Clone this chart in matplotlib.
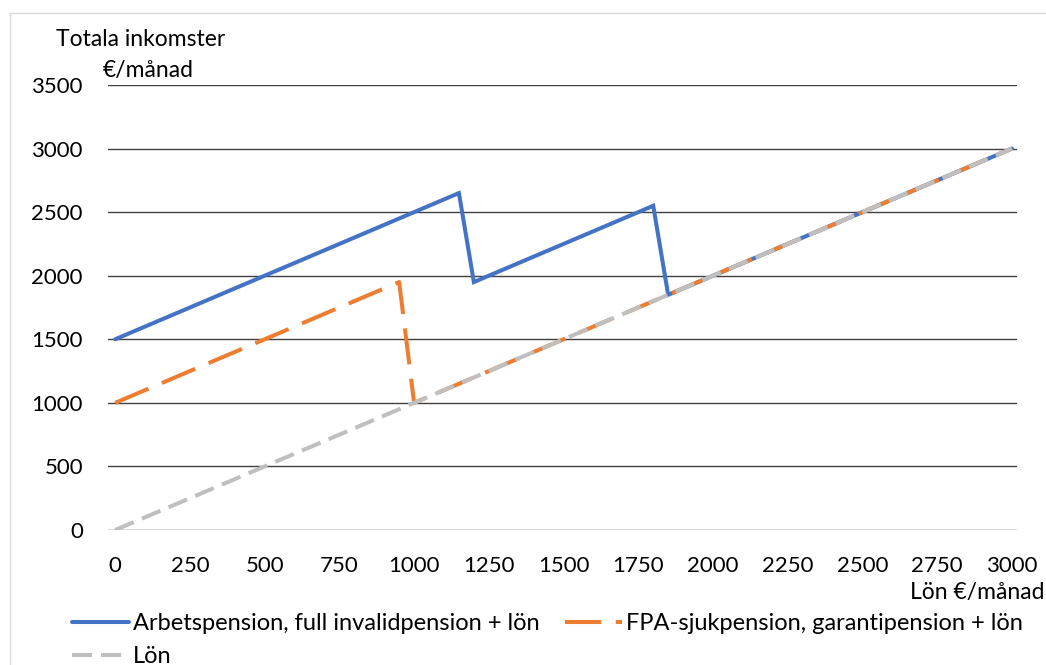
import matplotlib
matplotlib.use("Agg")
import matplotlib.pyplot as plt
from matplotlib.lines import Line2D

plt.rcParams['font.family'] = ['Lato', 'DejaVu Sans']

# data (EUR / month)
arbets_x = [0, 1150, 1200, 1800, 1850, 3000]
arbets_y = [1500, 2650, 1950, 2550, 1850, 3000]
fpa_x = [0, 950, 1000, 3000]
fpa_y = [1000, 1950, 1000, 3000]
lon_x = [0, 3000]
lon_y = [0, 3000]

labels = ["Arbetspension, full invalidpension + lön",
          "FPA-sjukpension, garantipension + lön",
          "Lön"]
xticks = list(range(0, 3001, 250))
yticks = list(range(0, 3501, 500))

W, H = 1046, 665
fig = plt.figure(figsize=(W / 100, H / 100), dpi=100)
ax = fig.add_axes([108 / W, (H - 530) / H, (1017 - 108) / W, (530 - 85) / H])

blue, orange, grey = "#4472C4", "#ED7D31", "#BFBFBF"
lw = 2.9
l1, = ax.plot(arbets_x, arbets_y, color=blue, lw=lw, solid_capstyle='round',
              solid_joinstyle='miter', label=labels[0], zorder=3)
l2, = ax.plot(fpa_x, fpa_y, color=orange, lw=lw, dashes=(9, 3.6),
              label=labels[1], zorder=4)
l3, = ax.plot(lon_x, lon_y, color=grey, lw=lw, dashes=(5, 2.2),
              label=labels[2], zorder=5)

ax.set_xlim(-24, 3017)
ax.set_ylim(0, 3500)
ax.set_xticks(xticks)
ax.set_yticks(yticks)
ax.tick_params(length=0, labelsize=16, colors="#000000")
ax.tick_params(axis='x', pad=19)
ax.tick_params(axis='y', pad=18)
ax.grid(axis='y', color="#404040", lw=1.0)
ax.set_axisbelow(True)
for s in ax.spines.values():
    s.set_visible(False)

fig.text(141 / W, 1 - 40 / H, "Totala inkomster", ha='center', va='center', fontsize=16.5)
fig.text(148 / W, 1 - 70 / H, "€/månad", ha='center', va='center', fontsize=16.5)
fig.text(1045 / W, 1 - 592 / H, "Lön €/månad", ha='right', va='center', fontsize=16.5)

# light chart border
fig.add_artist(Line2D([10 / W, 1], [1 - 13 / H, 1 - 13 / H], color="#D9D9D9", lw=1))
fig.add_artist(Line2D([10 / W, 10 / W], [0, 1 - 13 / H], color="#D9D9D9", lw=1))

# order so the first row holds the two pensions and "Lön" sits below
fig.legend([l1, l3, l2], [labels[0], labels[2], labels[1]],
           loc='upper left', bbox_to_anchor=(72 / W, 1 - 613 / H), ncol=2,
           frameon=False, fontsize=17, handlelength=2.4, handletextpad=0.17,
           columnspacing=1.1, labelspacing=0.5, borderpad=0, borderaxespad=0)

fig.savefig("out.png", dpi=100)
